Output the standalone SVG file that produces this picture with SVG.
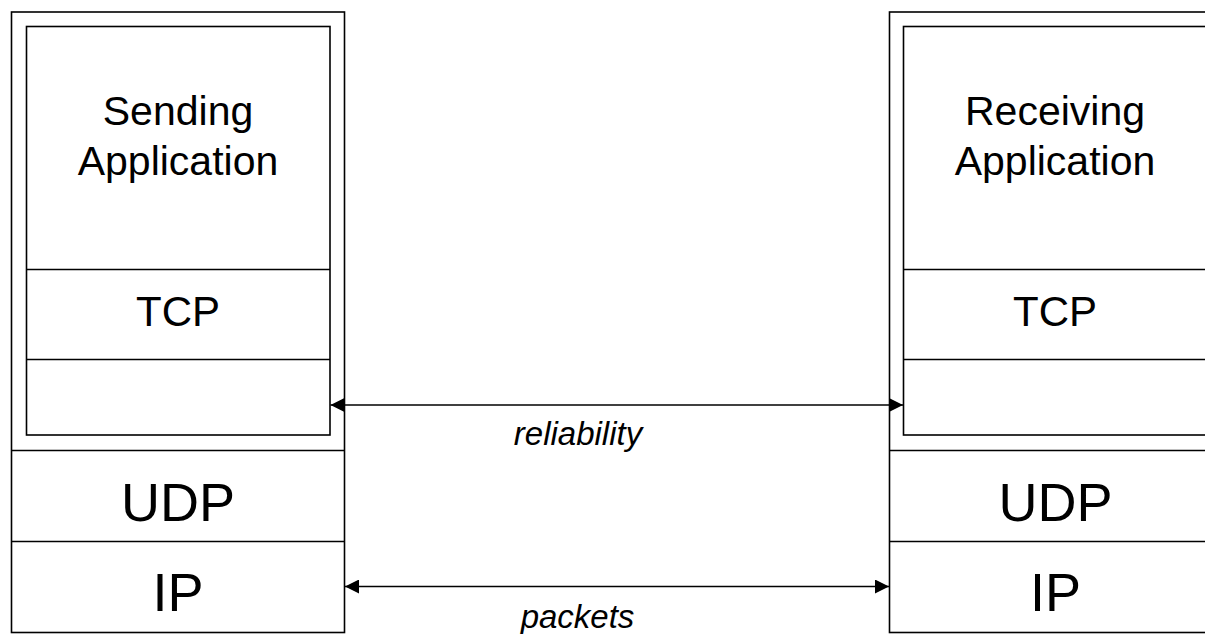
<svg xmlns="http://www.w3.org/2000/svg" width="1205" height="634" viewBox="0 0 1205 634">
  <style>
    .box { fill: none; stroke: #000; stroke-width: 1.6; }
    .sep { stroke: #000; stroke-width: 1.6; }
    .lbl { font-family: "Liberation Sans", Arial, sans-serif; fill: #000; text-anchor: middle; }
    .app { font-size: 41px; }
    .tcp { font-size: 42px; }
    .low { font-size: 54px; }
    .note { font-family: "Liberation Sans", Arial, sans-serif; font-style: italic; font-size: 33px; fill: #000; text-anchor: middle; }
    .conn { stroke: #000; stroke-width: 1.6; fill: none; }
  </style>
  <defs>
    <marker id="head" viewBox="0 0 14 14" refX="14" refY="7" markerWidth="14" markerHeight="14" markerUnits="userSpaceOnUse" orient="auto-start-reverse">
      <path d="M0,0 L14,7 L0,14 Z" fill="#000"/>
    </marker>
  </defs>
  <rect width="1205" height="634" fill="#fff"/>

  <!-- sending host stack -->
  <g id="sender">
    <rect class="box" x="11.5" y="12" width="333" height="620.5"/>
    <rect class="box" x="26.5" y="26.5" width="303.5" height="408.5"/>
    <line class="sep" x1="26.5" y1="269.5" x2="330" y2="269.5"/>
    <line class="sep" x1="26.5" y1="359.5" x2="330" y2="359.5"/>
    <line class="sep" x1="11.5" y1="450.5" x2="344.5" y2="450.5"/>
    <line class="sep" x1="11.5" y1="541.5" x2="344.5" y2="541.5"/>
    <text class="lbl app" x="178" y="125">Sending</text>
    <text class="lbl app" x="178" y="175">Application</text>
    <text class="lbl tcp" x="178" y="326">TCP</text>
    <text class="lbl low" x="178" y="520.5">UDP</text>
    <text class="lbl low" x="178" y="611">IP</text>
  </g>

  <!-- receiving host stack -->
  <g id="receiver">
    <rect class="box" x="889.5" y="12" width="333" height="620.5"/>
    <rect class="box" x="903.5" y="26.5" width="303.5" height="408.5"/>
    <line class="sep" x1="903.5" y1="269.5" x2="1207" y2="269.5"/>
    <line class="sep" x1="903.5" y1="359.5" x2="1207" y2="359.5"/>
    <line class="sep" x1="889.5" y1="450.5" x2="1222.5" y2="450.5"/>
    <line class="sep" x1="889.5" y1="541.5" x2="1222.5" y2="541.5"/>
    <text class="lbl app" x="1055" y="125">Receiving</text>
    <text class="lbl app" x="1055" y="175">Application</text>
    <text class="lbl tcp" x="1055" y="326">TCP</text>
    <text class="lbl low" x="1055.5" y="520.5">UDP</text>
    <text class="lbl low" x="1055.5" y="611">IP</text>
  </g>

  <!-- peer links -->
  <g id="connectors">
    <line class="conn" x1="330.5" y1="405" x2="903" y2="405" marker-start="url(#head)" marker-end="url(#head)"/>
    <line class="conn" x1="345" y1="586.5" x2="889" y2="586.5" marker-start="url(#head)" marker-end="url(#head)"/>
    <text class="note" x="578" y="445">reliability</text>
    <text class="note" x="577.5" y="628">packets</text>
  </g>
</svg>
